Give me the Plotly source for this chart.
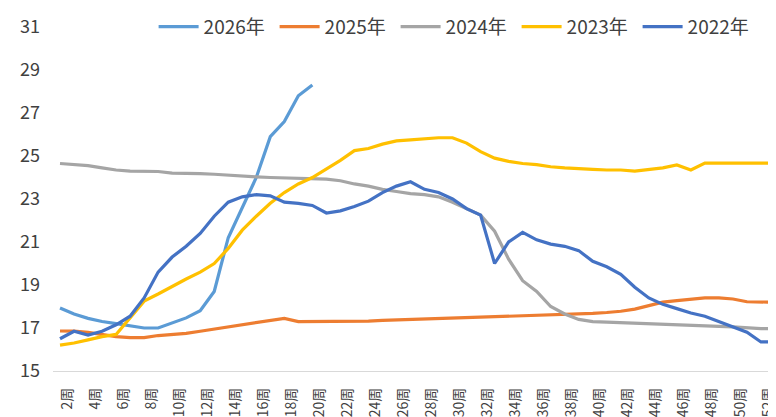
import plotly.graph_objects as go

weeks = list(range(1, 53))
tick_weeks = list(range(2, 53, 2))
tick_labels = [f"{w}周" for w in tick_weeks]
y_ticks = [15, 17, 19, 21, 23, 25, 27, 29, 31]

y2026 = [17.93, 17.65, 17.45, 17.3, 17.2, 17.1, 17.0, 17.0, 17.23, 17.47, 17.8, 18.7,
         21.2, 22.6, 24.0, 25.9, 26.6, 27.8, 28.3]
y2025 = [16.86, 16.85, 16.8, 16.7, 16.6, 16.55, 16.55, 16.65, 16.7, 16.75, 16.85, 16.95,
         17.05, 17.15, 17.28, 17.38, 17.45, 17.3, 17.3, 17.3, 17.3, 17.3, 17.32, 17.35,
         17.37, 17.4, 17.42, 17.45, 17.45, 17.47, 17.5, 17.52, 17.55, 17.57, 17.6, 17.6,
         17.62, 17.65, 17.68, 17.72, 17.78, 17.88, 18.05, 18.2, 18.27, 18.33, 18.4, 18.4,
         18.35, 18.22, 18.2, 18.2]
y2024 = [24.65, 24.6, 24.55, 24.45, 24.35, 24.3, 24.3, 24.28, 24.2, 24.2, 24.18, 24.15,
         24.1, 24.05, 24.03, 24.0, 23.98, 23.95, 23.95, 23.92, 23.85, 23.7, 23.6, 23.45,
         23.35, 23.25, 23.2, 23.1, 22.85, 22.55, 22.25, 21.5, 20.2, 19.2, 18.7, 18.0,
         17.65, 17.4, 17.3, 17.27, 17.25, 17.22, 17.2, 17.18, 17.16, 17.14, 17.12, 17.08,
         17.05, 17.0, 16.97, 16.97]
y2023 = [16.2, 16.3, 16.45, 16.6, 16.7, 17.5, 18.25, 18.58, 18.95, 19.28, 19.6, 20.0,
         20.7, 21.55, 22.2, 22.8, 23.3, 23.7, 24.0, 24.4, 24.8, 25.25, 25.35, 25.55,
         25.7, 25.75, 25.8, 25.85, 25.85, 25.6, 25.2, 24.9, 24.75, 24.65, 24.6, 24.5,
         24.45, 24.4, 24.38, 24.35, 24.35, 24.3, 24.38, 24.45, 24.58, 24.35, 24.67, 24.67,
         24.67, 24.67, 24.67, 24.67]
y2022 = [16.5, 16.85, 16.67, 16.85, 17.15, 17.55, 18.4, 19.6, 20.3, 20.8, 21.4, 22.2,
         22.85, 23.1, 23.2, 23.15, 22.85, 22.8, 22.7, 22.35, 22.45, 22.65, 22.9, 23.3,
         23.6, 23.8, 23.45, 23.3, 23.0, 22.55, 22.25, 20.0, 21.0, 21.45, 21.1, 20.9,
         20.8, 20.6, 20.1, 19.85, 19.5, 18.9, 18.4, 18.1, 17.9, 17.7, 17.55, 17.3,
         17.05, 16.8, 16.35, 16.35]

series = [
    ("2026年", y2026, "#5B9BD5"),
    ("2025年", y2025, "#ED7D31"),
    ("2024年", y2024, "#A5A5A5"),
    ("2023年", y2023, "#FFC000"),
    ("2022年", y2022, "#4472C4"),
]

fig = go.Figure()
for name, ys, color in series:
    fig.add_trace(go.Scatter(
        x=weeks[:len(ys)], y=ys, name=name, mode="lines",
        line=dict(color=color, width=3.2, shape="linear"),
    ))

fig.update_layout(
    width=776, height=417,
    margin=dict(l=45, r=2, t=19, b=54, autoexpand=False),
    paper_bgcolor="white", plot_bgcolor="white",
    font=dict(family="Noto Sans CJK SC, Noto Sans, sans-serif", color="#404040"),
    showlegend=True,
    legend=dict(
        orientation="h", x=0.138, xanchor="left",
        yref="container", y=0.955, yanchor="middle",
        font=dict(size=19, color="#404040"), bgcolor="rgba(0,0,0,0)",
        traceorder="normal", itemwidth=40, tracegroupgap=0,
        entrywidth=66, entrywidthmode="pixels",
    ),
    xaxis=dict(
        range=[0.5, 52.5], tickmode="array", tickvals=tick_weeks, ticktext=tick_labels,
        tickangle=-90, showgrid=False, zeroline=False,
        showline=True, linecolor="#D9D9D9", linewidth=1.3,
        ticks="", tickfont=dict(size=14, color="#404040"),
        ticklabelshift=-7, ticklabelstandoff=10,
    ),
    yaxis=dict(
        range=[15, 31], tickmode="array", tickvals=y_ticks,
        showgrid=False, zeroline=False, showline=False, ticks="",
        tickfont=dict(size=18, color="#404040"), ticklabelstandoff=12,
    ),
)

fig.write_html("out.html")
